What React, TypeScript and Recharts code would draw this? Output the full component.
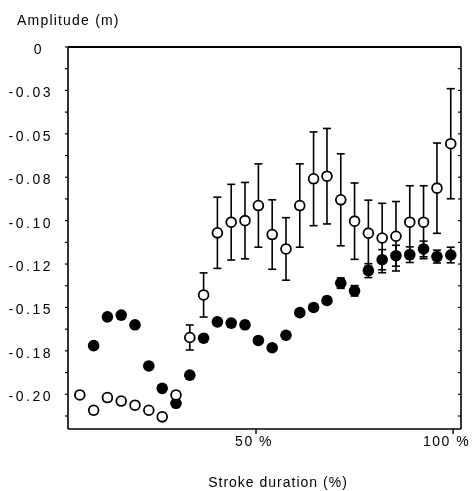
import React from 'react';
import { ScatterChart, Scatter, XAxis, YAxis, ErrorBar, ReferenceLine, Label } from 'recharts';

const strokePct = [5.3, 8.8, 12.3, 15.8, 19.3, 22.8, 26.2, 29.7, 33.2, 36.7, 40.2, 43.7, 47.2, 50.6, 54.1, 57.6, 61.1, 64.6, 68.0, 71.5, 75.0, 78.5, 82.0, 85.5, 89.0, 92.5, 95.9, 99.4];

const openAmp = [-0.2004, -0.2092, -0.2019, -0.2039, -0.2063, -0.2092, -0.213, -0.2004, -0.1673, -0.1428, -0.107, -0.1009, -0.1, -0.0913, -0.108, -0.1163, -0.0913, -0.0759, -0.0744, -0.088, -0.1003, -0.1072, -0.11, -0.109, -0.1009, -0.1009, -0.0813, -0.0557];
const openErr = [0, 0.002, 0, 0, 0, 0, 0.002, 0, 0.0072, 0.0127, 0.0205, 0.0218, 0.022, 0.024, 0.02, 0.018, 0.024, 0.027, 0.0275, 0.0265, 0.022, 0.019, 0.02, 0.02, 0.021, 0.021, 0.026, 0.0317];

const filledAmp = [null, -0.172, -0.1554, -0.1544, -0.16, -0.1837, -0.1966, -0.2052, -0.189, -0.1677, -0.1583, -0.159, -0.16, -0.169, -0.1732, -0.166, -0.153, -0.15, -0.146, -0.136, -0.1404, -0.1288, -0.1225, -0.1202, -0.1196, -0.1163, -0.1207, -0.1198];
const filledErr = [0, 0, 0.0015, 0.0015, 0, 0, 0, 0, 0, 0, 0.002, 0.002, 0.002, 0, 0, 0, 0.0015, 0.0015, 0.002, 0.003, 0.003, 0.004, 0.0058, 0.006, 0.0045, 0.0045, 0.0037, 0.0045];

const yTicks = [0, -0.0125, -0.025, -0.0375, -0.05, -0.0625, -0.075, -0.0875, -0.1, -0.1125, -0.125, -0.1375, -0.15, -0.1625, -0.175, -0.1875, -0.2, -0.2125];
const yTickLabels = ['0', '', '-0.03', '', '-0.05', '', '-0.08', '', '-0.10', '', '-0.12', '', '-0.15', '', '-0.18', '', '-0.20', ''];

const xTicks = [50, 100];
const xTickLabels = ['50 %', '100 %'];

const yTitle = 'Amplitude (m)';
const xTitle = 'Stroke duration (%)';

const X_MIN = 2.3;
const X_MAX = 102;

const FONT = "'Liberation Sans', Arial, Helvetica, sans-serif";

const openData = strokePct.map((x, i) => ({ x, y: openAmp[i], e: openErr[i] }));
const filledData = strokePct
  .map((x, i) => ({ x, y: filledAmp[i], e: filledErr[i] }))
  .filter((d) => d.y !== null);

const OpenDot = (p: any) => (
  <circle cx={p.cx} cy={p.cy} r={4.9} fill="#fff" stroke="#000" strokeWidth={1.8} />
);
const FilledDot = (p: any) => <circle cx={p.cx} cy={p.cy} r={5.8} fill="#000" />;

const YTick = (p: any) => {
  const idx = yTicks.findIndex((t) => Math.abs(t - p.payload.value) < 1e-6);
  const lbl = idx >= 0 ? yTickLabels[idx] : '';
  const shift = lbl === '0' ? -9 : 0;
  return (
    <text x={p.x + shift} y={p.y + 2} textAnchor="end" dominantBaseline="central" fontSize={14} fontFamily={FONT} letterSpacing={2.5} fill="#000">
      {lbl}
    </text>
  );
};

const XTick = (p: any) => {
  const idx = xTicks.indexOf(p.payload.value);
  return (
    <text x={p.x + 17} y={p.y + 8} textAnchor="end" fontSize={14} fontFamily={FONT} letterSpacing={1.5} fill="#000">
      {idx >= 0 ? xTickLabels[idx] : ''}
    </text>
  );
};

export default function App() {
  return (
    <div style={{ position: 'fixed', top: 8, left: 8, width: 465, height: 483 }}>
      <ScatterChart width={465} height={483} margin={{ top: 39, right: 12, bottom: 0, left: 0 }}>
        <XAxis
          type="number"
          dataKey="x"
          domain={[X_MIN, X_MAX]}
          ticks={xTicks}
          allowDataOverflow
          height={62}
          tickSize={5}
          tickMargin={4}
          stroke="#000"
          axisLine={{ stroke: '#000', strokeWidth: 1.6 }}
          tickLine={{ stroke: '#000', strokeWidth: 1.4 }}
          tick={<XTick />}
        >
          <Label
            content={() => (
              <text x={270} y={479} textAnchor="middle" fontSize={14} fontFamily={FONT} letterSpacing={1} fill="#000">
                {xTitle}
              </text>
            )}
          />
        </XAxis>
        <YAxis
          type="number"
          dataKey="y"
          domain={[-0.22, 0]}
          ticks={yTicks}
          interval={0}
          allowDataOverflow
          width={60}
          tickSize={3}
          tickMargin={12}
          axisLine={{ stroke: '#000', strokeWidth: 1.6 }}
          tickLine={{ stroke: '#000', strokeWidth: 1.2 }}
          tick={<YTick />}
        >
          <Label
            content={() => (
              <text x={9} y={17} textAnchor="start" fontSize={14} fontFamily={FONT} letterSpacing={1.2} fill="#000">
                {yTitle}
              </text>
            )}
          />
        </YAxis>
        <ReferenceLine y={0} stroke="#000" strokeWidth={2} />
        <ReferenceLine x={X_MAX} stroke="#000" strokeWidth={1.6} />
        {yTicks.slice(1).map((t) => (
          <ReferenceLine
            key={'rt' + t}
            segment={[{ x: X_MAX - 0.75, y: t }, { x: X_MAX, y: t }]}
            stroke="#000"
            strokeWidth={1.2}
          />
        ))}
        <Scatter data={filledData} isAnimationActive={false} shape={<FilledDot />}>
          <ErrorBar dataKey="e" direction="y" width={4} stroke="#000" strokeWidth={1.6} />
        </Scatter>
        <Scatter data={openData} isAnimationActive={false} shape={<OpenDot />}>
          <ErrorBar dataKey="e" direction="y" width={4} stroke="#000" strokeWidth={1.6} />
        </Scatter>
      </ScatterChart>
    </div>
  );
}
